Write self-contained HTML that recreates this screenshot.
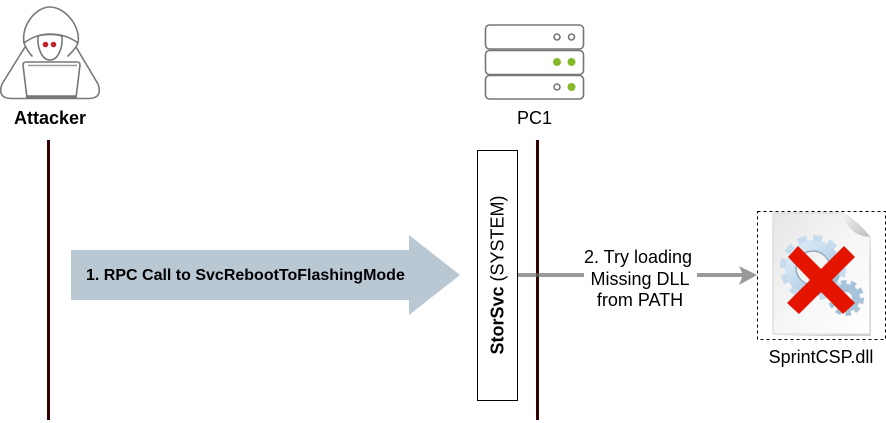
<!DOCTYPE html>
<html>
<head>
<meta charset="utf-8">
<style>
html,body{margin:0;padding:0;background:#fff;}
svg{display:block;}
text{font-family:"Liberation Sans",sans-serif;fill:#000;}
</style>
</head>
<body>
<svg width="886" height="423" viewBox="0 0 886 423" xmlns="http://www.w3.org/2000/svg">
<defs>
<linearGradient id="pg" x1="0" y1="0" x2="1" y2="1">
<stop offset="0" stop-color="#e6e6e6"/><stop offset="0.5" stop-color="#f6f6f6"/><stop offset="1" stop-color="#ffffff"/>
</linearGradient>
<linearGradient id="gg" x1="0" y1="0" x2="1" y2="1">
<stop offset="0" stop-color="#e2eff9"/><stop offset="0.55" stop-color="#bcd5e9"/><stop offset="1" stop-color="#8fb0cb"/>
</linearGradient>
<linearGradient id="fd" x1="0" y1="0" x2="1" y2="1">
<stop offset="0" stop-color="#f4f4f4"/><stop offset="1" stop-color="#bdbdbd"/>
</linearGradient>
</defs>

<!-- attacker -->
<g fill="none" stroke="#777" stroke-width="1.600" stroke-linejoin="round" stroke-linecap="round">
<path d="M25 47 L2 84 Q-3 98 11 98.500 L89 98.500 Q103 98 98 84 L76 47"/>
<path fill="#fff" d="M24 43 C21 25 36 7 50 7 C64 7 81 25 78 43 C70 37 60 34 50 34 C40 34 32 37 24 43Z"/>
<path d="M24 43 C26 48 28 52 32 56 M78 43 C76 48 72 52 68 56"/>
<path fill="#fff" d="M38 36 C37 48 42 60 50 60 C58 60 63 48 62 36 C56 34 44 34 38 36Z"/>
<path fill="#fff" d="M26 62 L77 62 Q80 62 80 65 L76 98 L27 98 L23 65 Q23 62 26 62Z"/>
</g>
<path d="M28 65.500H77" stroke="#999" stroke-width="1.500"/>
<path d="M26 96.500H76" stroke="#777" stroke-width="2.500"/>
<circle cx="45.500" cy="44.500" r="2.800" fill="#c0232a"/>
<circle cx="53.500" cy="44.500" r="2.800" fill="#c0232a"/>
<text x="50" y="124" text-anchor="middle" font-size="18" font-weight="bold">Attacker</text>

<!-- server -->
<g fill="#fff" stroke="#777" stroke-width="1.600">
<rect x="485.500" y="25" width="98" height="24" rx="4"/>
<rect x="485.500" y="50.500" width="98" height="24" rx="4"/>
<rect x="485.500" y="75.500" width="98" height="23.500" rx="4"/>
<circle cx="557" cy="37" r="3"/>
<circle cx="571.500" cy="37" r="3"/>
<circle cx="557" cy="87" r="3"/>
</g>
<g fill="#86b92a">
<circle cx="557" cy="62" r="4"/>
<circle cx="571.500" cy="62" r="4"/>
<circle cx="571.500" cy="87" r="4"/>
</g>
<text x="534.500" y="124" text-anchor="middle" font-size="18">PC1</text>

<!-- lifelines -->
<rect x="47" y="140" width="3" height="280" fill="#330000"/>
<rect x="536" y="140" width="3" height="280" fill="#330000"/>

<!-- big arrow -->
<polygon points="71,250 409,250 409,235 460,275 409,315 409,300 71,300" fill="#bac8d3"/>
<text x="86" y="280" font-size="16" font-weight="bold">1. RPC Call to SvcRebootToFlashingMode</text>

<!-- StorSvc -->
<rect x="477.500" y="150.500" width="40" height="250" fill="#fff" stroke="#000" stroke-width="1"/>
<text transform="translate(503.500,275) rotate(-90)" text-anchor="middle" font-size="18"><tspan font-weight="bold">StorSvc</tspan> (SYSTEM)</text>

<!-- connector -->
<path d="M518 275H584" stroke="#999" stroke-width="4"/>
<rect x="536" y="273" width="3" height="4" fill="#5c4a4a"/>
<text x="638" y="263" text-anchor="middle" font-size="18">2. Try loading</text>
<text x="640" y="285" text-anchor="middle" font-size="18">Missing DLL</text>
<text x="640" y="306" text-anchor="middle" font-size="18">from PATH</text>
<path d="M697 275H745" stroke="#999" stroke-width="4"/>
<polygon points="739,266 757,275 739,285 743,275" fill="#999"/>

<!-- dashed box -->
<rect x="757.500" y="211.500" width="128" height="128" fill="#fff" stroke="#000" stroke-width="1" stroke-dasharray="3 3"/>

<!-- file -->
<path d="M775 336 H871 V240 L869 334 Z" fill="#cfcfcf"/>
<path d="M773 213 H843 Q858 222 870 237 V334 H773Z" fill="url(#pg)" stroke="#d8d8d8" stroke-width="1.200"/>
<path d="M843 213 Q848 236 870 237 Q858 222 843 213Z" fill="url(#fd)"/>

<!-- gears -->
<circle cx="813" cy="268" r="23" fill="none" stroke="url(#gg)" stroke-width="10"/>
<circle cx="813" cy="268" r="30" fill="none" stroke="#c6dbed" stroke-width="6" stroke-dasharray="9 6.700"/>
<circle cx="813" cy="268" r="17" fill="none" stroke="#8fa8bd" stroke-width="1.500"/>
<circle cx="846" cy="298" r="10" fill="none" stroke="#a7c3da" stroke-width="8"/>
<circle cx="846" cy="298" r="15.500" fill="none" stroke="#a7c3da" stroke-width="5" stroke-dasharray="5.500 4.200"/>

<!-- red x -->
<polygon points="788,257 798,246 821,269 844,246 855,257 832,280 855,303 843,314 821,292 799,314 787,303 810,280" fill="#e51400"/>

<text x="821" y="363" text-anchor="middle" font-size="18">SprintCSP.dll</text>
</svg>
</body>
</html>
